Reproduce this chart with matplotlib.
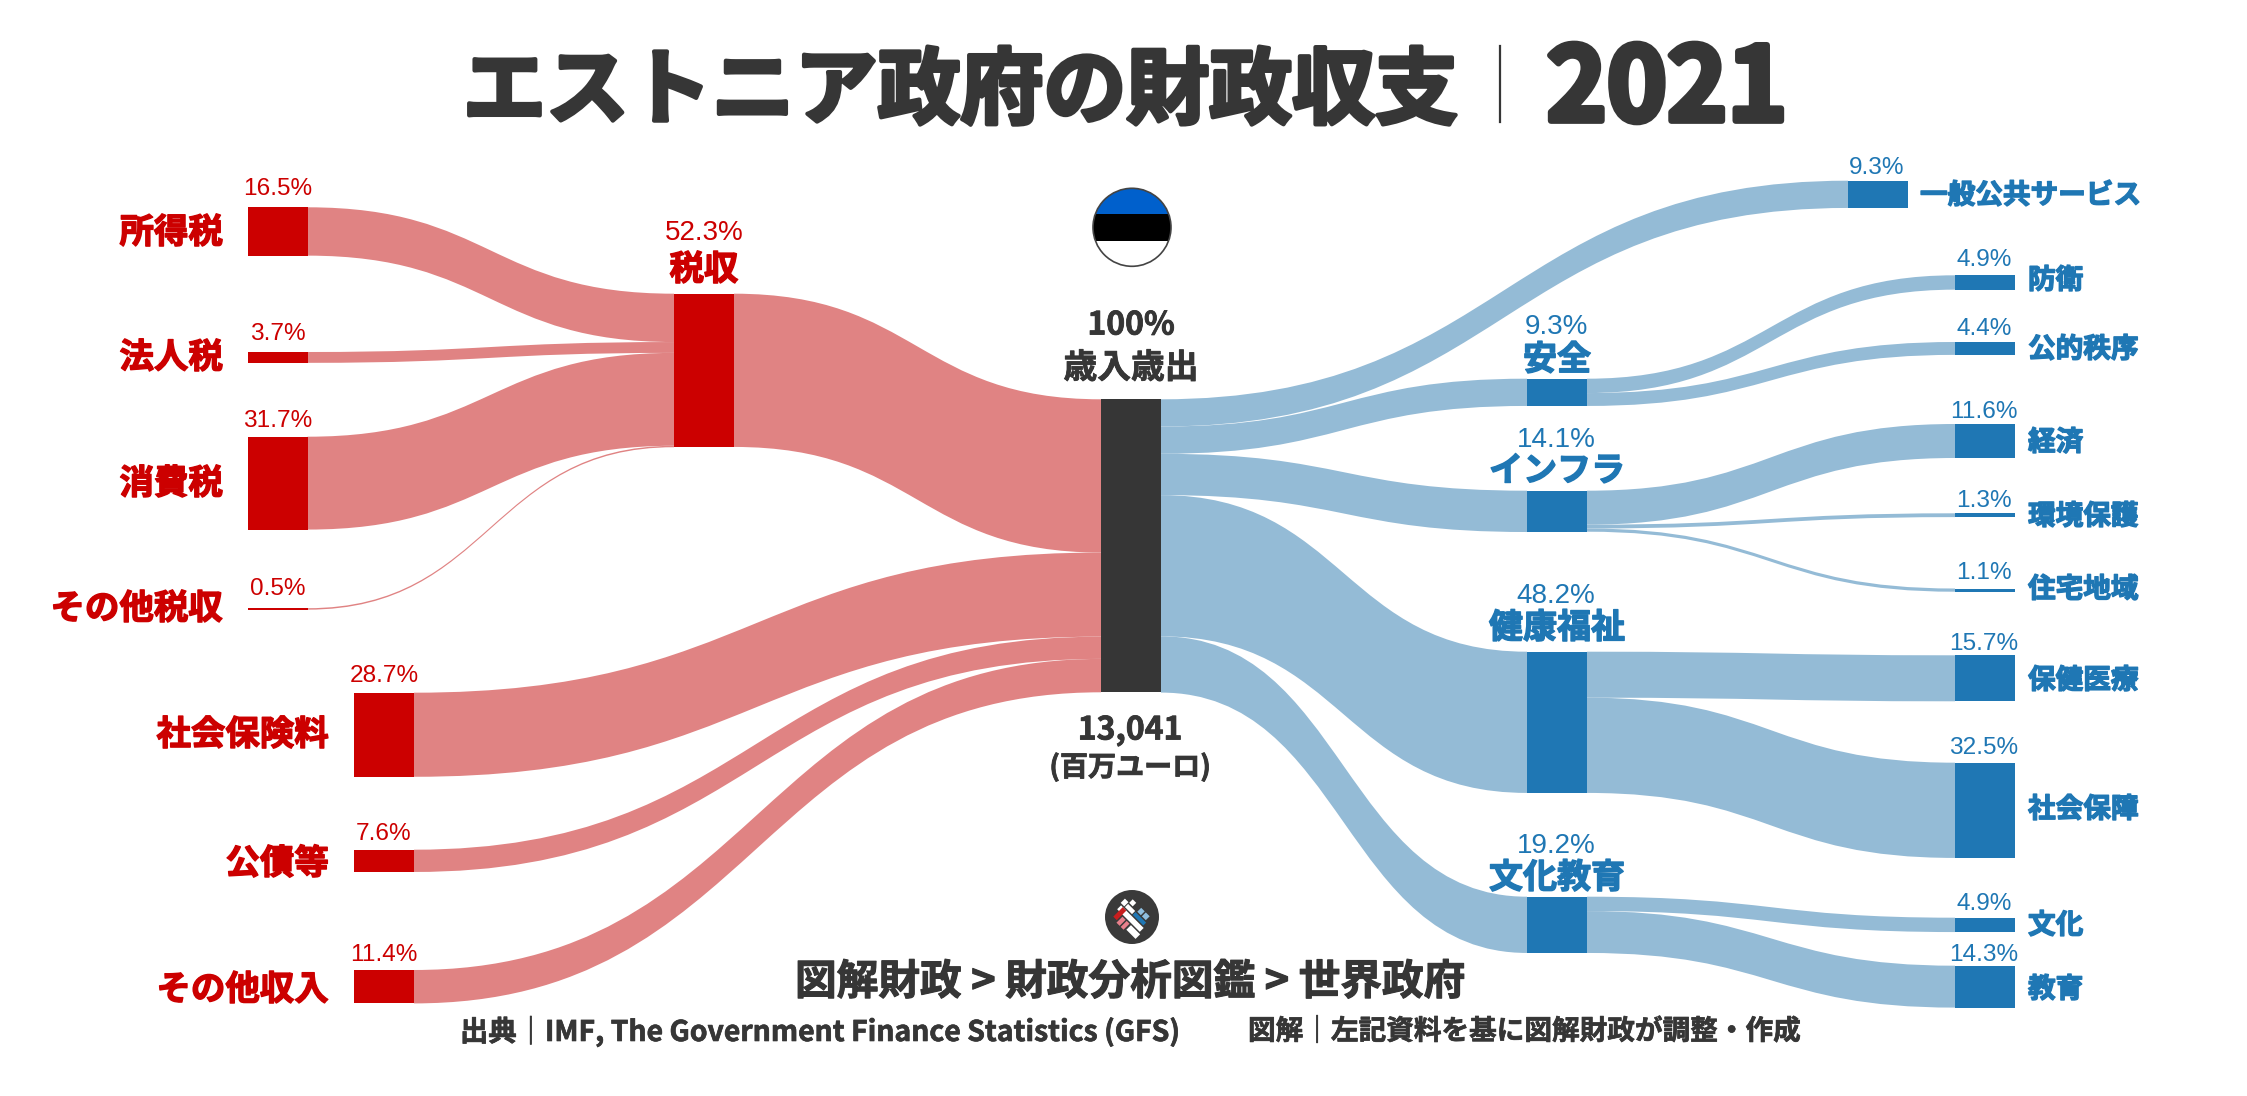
import numpy as np
import matplotlib
matplotlib.use("Agg")
import matplotlib.pyplot as plt
import matplotlib.patheffects as pe
from matplotlib.patches import Circle, Polygon, PathPatch, Rectangle
from matplotlib.path import Path

plt.rcParams['font.family'] = ['Noto Sans CJK JP', 'DejaVu Sans']

# データ(歳入歳出に占める割合 %)
tax_names = ["所得税", "法人税", "消費税", "その他税収"]
tax_vals = [16.5, 3.7, 31.7, 0.5]
tax_total = 52.3
rev_names = ["社会保険料", "公債等", "その他収入"]
rev_vals = [28.7, 7.6, 11.4]

mid_names = ["安全", "インフラ", "健康福祉", "文化教育"]
mid_vals = [9.3, 14.1, 48.2, 19.2]
general_name = "一般公共サービス"
general_val = 9.3
sub_names = [["防衛", "公的秩序"], ["経済", "環境保護", "住宅地域"], ["保健医療", "社会保障"], ["文化", "教育"]]
sub_vals = [[4.9, 4.4], [11.6, 1.3, 1.1], [15.7, 32.5], [4.9, 14.3]]
total_val = 100
total_amount = "13,041"

# レイアウト(ピクセル)
K = 2.93
W = 60
RED, RED_L = "#CC0000", "#E08383"
BLUE, BLUE_L = "#1F77B4", "#94BBD6"
DARK = "#363636"
X_TAX, X_REV, X_TAXSUM, X_TOTAL, X_MID, X_GEN, X_SUB = 247.5, 354, 674, 1101, 1527, 1848, 1955
TAX_TOPS = [207.3, 352, 436.7, 608.2]
TAX_LBL = [230, 355, 481, 606]
TAX_PCT = [187, 332, 419, 587]
REV_TOPS = [692.7, 849.7, 970]
REV_LBL = [732, 861, 987]
REV_PCT = [674, 832, 953]
TAXSUM_TOP = 293.7
TOTAL_TOP = 399.3
GEN_TOP = 180.7
MID_TOPS = [378.7, 490.7, 651.7, 896.7]
MID_LBL = [357, 468, 625, 875]
MID_PCT = [325, 438, 594, 844]
SUB_TOPS = [[275.3, 342], [424, 513.3, 588.5], [655.3, 762.7], [917.7, 965.7]]
SUB_LBL = [[278, 347], [440, 514, 587], [678, 807], [923, 987]]
SUB_PCT = [[258, 327], [410, 499, 571], [642, 746], [902, 953]]

fig = plt.figure(figsize=(22.47, 10.96), dpi=100)
ax = fig.add_axes([0, 0, 1, 1])
ax.set_xlim(0, 2247)
ax.set_ylim(1096, 0)
ax.axis("off")


def link(x0, x1, y0, y1, val, color):
    h = val * K
    xm = (x0 + x1) / 2
    verts = [(x0, y0), (xm, y0), (xm, y1), (x1, y1), (x1, y1 + h), (xm, y1 + h), (xm, y0 + h), (x0, y0 + h), (x0, y0)]
    codes = [Path.MOVETO] + [Path.CURVE4] * 3 + [Path.LINETO] + [Path.CURVE4] * 3 + [Path.CLOSEPOLY]
    ax.add_patch(PathPatch(Path(verts, codes), fc=color, lw=0, zorder=1))


def node(x, y, val, color):
    ax.add_patch(Rectangle((x, y), W, val * K, fc=color, lw=0, zorder=2))


def pct(x, y, val, color, size=17.6):
    ax.text(x, y + 2, f"{val}%", color=color, fontsize=size, family="Liberation Sans", ha="center", va="center", zorder=3)


def label(x, y, s, color, size=24.8, ha="center", stroke=1.0):
    ax.text(x, y + 2.5, s, color=color, fontsize=size, fontweight="bold", ha=ha, va="center", zorder=3,
            path_effects=[pe.withStroke(linewidth=stroke, foreground=color)])


# 歳入側
y_in = TAXSUM_TOP
for i, v in enumerate(tax_vals):
    link(X_TAX + W, X_TAXSUM, TAX_TOPS[i], y_in, v, RED_L)
    node(X_TAX, TAX_TOPS[i], v, RED)
    pct(X_TAX + 30, TAX_PCT[i], v, RED)
    label(223, TAX_LBL[i], tax_names[i], RED, ha="right")
    y_in += v * K

link(X_TAXSUM + W, X_TOTAL, TAXSUM_TOP, TOTAL_TOP, tax_total, RED_L)
node(X_TAXSUM, TAXSUM_TOP, tax_total, RED)
pct(X_TAXSUM + 30, 231, tax_total, RED, size=20)
label(X_TAXSUM + 30, 267, "税収", RED)

y_in = TOTAL_TOP + tax_total * K
for i, v in enumerate(rev_vals):
    link(X_REV + W, X_TOTAL, REV_TOPS[i], y_in, v, RED_L)
    node(X_REV, REV_TOPS[i], v, RED)
    pct(X_REV + 30, REV_PCT[i], v, RED)
    label(329, REV_LBL[i], rev_names[i], RED, ha="right")
    y_in += v * K

# 歳出側
y_out = TOTAL_TOP
link(X_TOTAL + W, X_GEN, y_out, GEN_TOP, general_val, BLUE_L)
node(X_GEN, GEN_TOP, general_val, BLUE)
pct(X_GEN + 29, 166, general_val, BLUE)
label(1920, 193, general_name, BLUE, size=19.9, ha="left")
y_out += general_val * K

for i, v in enumerate(mid_vals):
    link(X_TOTAL + W, X_MID, y_out, MID_TOPS[i], v, BLUE_L)
    node(X_MID, MID_TOPS[i], v, BLUE)
    pct(X_MID + 29, MID_PCT[i], v, BLUE, size=20)
    label(X_MID + 30, MID_LBL[i], mid_names[i], BLUE, size=24.5)
    y_out += v * K
    y_sub = MID_TOPS[i]
    for j, sv in enumerate(sub_vals[i]):
        link(X_MID + W, X_SUB, y_sub, SUB_TOPS[i][j], sv, BLUE_L)
        node(X_SUB, SUB_TOPS[i][j], sv, BLUE)
        pct(X_SUB + 29, SUB_PCT[i][j], sv, BLUE)
        label(2028, SUB_LBL[i][j], sub_names[i][j], BLUE, size=19.9, ha="left")
        y_sub += sv * K

# 中央
node(X_TOTAL, TOTAL_TOP, total_val, DARK)
label(1131, 323, f"{total_val}%", DARK, size=23, stroke=0.6)
label(1131, 365, "歳入歳出", DARK, size=24.3, stroke=0.6)
label(1130, 728, total_amount, DARK, size=23, stroke=0.6)
label(1130, 765, "(百万ユーロ)", DARK, size=20.2, stroke=0.6)

# タイトル
label(463, 90, "エストニア政府の財政収支", DARK, size=59.7, ha="left", stroke=3)
ax.plot([1500, 1500], [46, 122], color=DARK, lw=1.6)
label(1667, 88, "2021", DARK, size=73.5, stroke=4.5)

# 国旗
cx, cy, r = 1132, 227.3, 39
clip = Circle((cx, cy), r, transform=ax.transData)
for y0, y1, c in [(cy - r, 213.7, "#0060CC"), (213.7, 241, "black"), (241, cy + r, "white")]:
    band = Rectangle((cx - r, y0), 2 * r, y1 - y0, fc=c, lw=0, zorder=2)
    ax.add_patch(band)
    band.set_clip_path(clip)
ax.add_patch(Circle((cx, cy), r, fc="none", ec="#444444", lw=1.2, zorder=3))

# ロゴ
lx, ly = 1132, 917
ax.add_patch(Circle((lx, ly), 27, fc="#3A3A3A", lw=0, zorder=2))


def cell(u0, u1, v0, v1, c):
    s = 1 / np.sqrt(2)
    pts = [(lx + (u + v) * s, ly + (u - v) * s) for u, v in [(u0, v0), (u1, v0), (u1, v1), (u0, v1)]]
    ax.add_patch(Polygon(pts, fc=c, lw=0, zorder=3))


cell(-16, 16, -5, 0.5, "white")
cell(-1, 14, 2, 6, BLUE)
cell(0, 5, 7.5, 13, "#8FBFE0")
cell(6.5, 12, 7.5, 13, "#8FBFE0")
cell(-13.5, -8.5, -13, 0.5, "#C81E1E")
cell(-7, -2.5, -15, -6.5, "#E8808C")
cell(-1, 3, -15, -6.5, "#E8808C")
cell(-18, -13, 2, 8, "white")
cell(-12, -2, 2, 6.5, "white")
cell(-12, -7, 8, 13, "white")
cell(5, 18, -13, -6.5, "white")

# 出典
label(1130, 980, "図解財政 > 財政分析図鑑 > 世界政府", DARK, size=30, stroke=0.8)
label(460, 1029, "出典｜IMF, The Government Finance Statistics (GFS)", DARK, size=20.4, ha="left", stroke=0.5)
label(1248, 1029, "図解｜左記資料を基に図解財政が調整・作成", DARK, size=19.9, ha="left", stroke=0.5)

fig.savefig("out.png", dpi=100, facecolor="white")
